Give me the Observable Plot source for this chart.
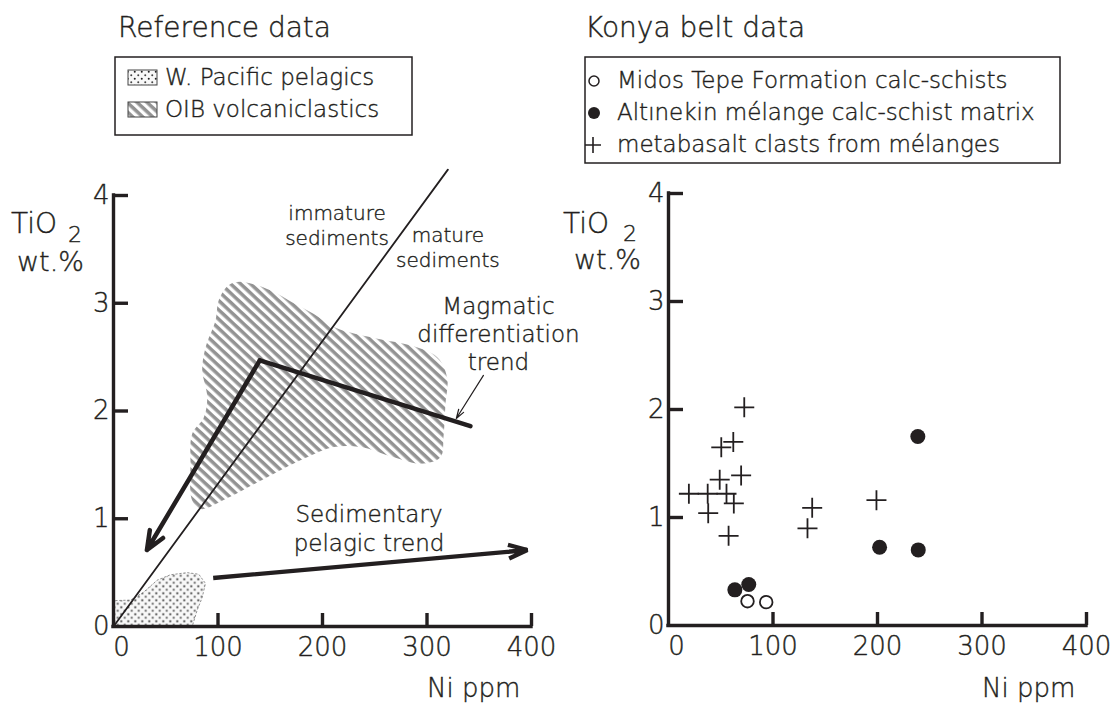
<!DOCTYPE html>
<html><head><meta charset="utf-8">
<script src="https://cdn.jsdelivr.net/npm/d3@7"></script>
<script src="https://cdn.jsdelivr.net/npm/@observablehq/plot@0.6"></script>
<style>
body{margin:0;background:#fff;}
#wrap{position:relative;width:1118px;height:709px;font-family:"DejaVu Sans";font-weight:300;color:#231f20;overflow:hidden;}
#wrap svg{position:absolute;}
#wrap text{font-weight:300;stroke:#231f20;stroke-width:0.4px;}
</style></head><body><div id="wrap"></div>
<script>
// ---------- data ----------
const xTicks = [0, 100, 200, 300, 400];
const yTicks = [0, 1, 2, 3, 4];

// boundary line between immature and mature sediments
const boundaryNi = [0, 320];
const boundaryTi = [0, 4.24];

// OIB volcaniclastics field
const oibNi = [121.5,150,172.5,191.7,210.8,230,258.7,284,309.8,319.3,317.7,315.8,312.9,293.8,268.2,236.4,210.8,185.3,159.8,134.3,108.8,83.3,75.3,73.7,75.3,86.4,89.7,84.9,88.1,97.6,100.8,110.4];
const oibTi = [3.20,3.12,3.00,2.90,2.78,2.72,2.66,2.61,2.50,2.31,2.07,1.76,1.57,1.51,1.57,1.665,1.665,1.57,1.45,1.32,1.19,1.09,1.17,1.51,1.79,1.94,2.13,2.38,2.59,2.84,3.03,3.17];

// W. Pacific pelagics field
const pelNi = [0,0,16.3,29,41.8,54.5,70.5,81.6,88,84.9,80,75.3];
const pelTi = [0,0.24,0.245,0.32,0.43,0.48,0.50,0.485,0.40,0.27,0.15,0];

// trends
const magmaticNi = [341.6, 140, 32];
const magmaticTi = [1.86, 2.47, 0.71];
const pelagicTrendNi = [95.4, 396];
const pelagicTrendTi = [0.45, 0.71];
const leaderNi = [354, 328];
const leaderTi = [2.33, 1.93];

// annotations (text, last-line baseline in data units)
const annText = ["immature\nsediments", "mature\nsediments", "Magmatic\ndifferentiation\ntrend", "Sedimentary\npelagic trend"];
const annNi = [213.9, 320, 368.4, 244.5];
const annTi = [3.536, 3.332, 2.376, 0.705];

// Konya belt data
const midosNi = [75.6, 93.5];
const midosTi = [0.225, 0.216];
const altinekinNi = [63.5, 76.8, 202, 239, 238.6];
const altinekinTi = [0.33, 0.38, 0.725, 0.70, 1.75];
const metabasaltNi = [72.5, 62, 50.5, 69.5, 49, 19.5, 37.5, 55.5, 62.5, 38, 57.5, 137.5, 133, 199];
const metabasaltTi = [2.02, 1.70, 1.65, 1.39, 1.35, 1.22, 1.22, 1.22, 1.13, 1.04, 0.83, 1.09, 0.90, 1.16];

// ---------- helpers ----------
const INK = "#231f20";
const FONT = "DejaVu Sans";
const pts = (xs, ys) => xs.map((x, i) => ({ni: x, ti: ys[i]}));
const plusSymbol = {draw(ctx, size) { const r = Math.sqrt(size / Math.PI); ctx.moveTo(-r, 0); ctx.lineTo(r, 0); ctx.moveTo(0, -r); ctx.lineTo(0, r); }};

function axes(plotW, plotH) {
  const lab = {tickSize: 0, fontSize: 26, fill: INK, label: null, fontFamily: FONT, fontWeight: 300, tickFormat: d => String(d)};
  return [
    Plot.tickX(xTicks.slice(1), {x: d => d, insetTop: plotH - 13, stroke: INK, strokeWidth: 3.4}),
    Plot.tickY(yTicks.slice(1), {y: d => d, insetRight: plotW - 15, stroke: INK, strokeWidth: 3.4}),
    Plot.ruleY([0], {stroke: INK, strokeWidth: 3.4, strokeLinecap: "square"}),
    Plot.ruleX([0], {stroke: INK, strokeWidth: 3.4, strokeLinecap: "square"}),
    Plot.axisX(xTicks.slice(1), {...lab, tickPadding: 11}),
    Plot.axisX([xTicks[0]], {...lab, tickPadding: 11, dx: 8}),
    Plot.axisY(yTicks, {...lab, tickPadding: 4})
  ];
}
const baseStyle = {background: "transparent", fontFamily: FONT, color: INK, overflow: "visible"};

const wrap = document.getElementById("wrap");

// ---------- overlay: titles, legends, axis titles ----------
wrap.insertAdjacentHTML("beforeend", `
<svg width="1118" height="709" style="left:0;top:0" font-family="${FONT}" fill="${INK}">
<defs>
  <pattern id="hatch" patternUnits="userSpaceOnUse" width="12" height="6.8" patternTransform="rotate(43)">
    <rect width="12" height="3.5" fill="#939393"/>
  </pattern>
  <pattern id="dots" patternUnits="userSpaceOnUse" width="7" height="7">
    <rect width="7" height="7" fill="#f8f8f8"/>
    <circle cx="1.75" cy="1.75" r="1" fill="#222"/>
    <circle cx="5.25" cy="5.25" r="1" fill="#444"/>
  </pattern>
</defs>
<text x="118" y="37" font-size="28">Reference data</text>
<rect x="115" y="57" width="297" height="78" fill="none" stroke="${INK}" stroke-width="1.5"/>
<rect x="128" y="70" width="29" height="15" fill="url(#dots)" stroke="#444" stroke-width="1"/>
<text x="165" y="85" font-size="23">W. Pacific pelagics</text>
<rect x="128" y="102" width="29" height="15" fill="url(#hatch)" stroke="#444" stroke-width="1"/>
<text x="165" y="117" font-size="23">OIB volcaniclastics</text>

<text x="585" y="37" font-size="28">Konya belt data</text>
<rect x="585" y="57" width="475" height="106" fill="none" stroke="${INK}" stroke-width="1.5"/>
<circle cx="594" cy="81" r="5" fill="none" stroke="${INK}" stroke-width="1.5"/>
<text x="617" y="88" font-size="23">Midos Tepe Formation calc-schists</text>
<circle cx="594" cy="113" r="6" fill="${INK}"/>
<text x="617" y="120" font-size="23">Altınekin mélange calc-schist matrix</text>
<path d="M585,145H601M593,137V153" stroke="${INK}" stroke-width="1.6"/>
<text x="617" y="152" font-size="23">metabasalt clasts from mélanges</text>

<text x="11" y="233" font-size="28">TiO</text>
<text x="68" y="242" font-size="22">2</text>
<text x="17" y="271" font-size="27">wt.%</text>
<text x="427" y="697" font-size="26">Ni ppm</text>

<text x="563" y="233" font-size="28">TiO</text>
<text x="623" y="241" font-size="22">2</text>
<text x="574" y="269" font-size="27">wt.%</text>
<text x="982" y="697" font-size="26">Ni ppm</text>
</svg>`);

// ---------- left panel ----------
{
  const width = 600, height = 559, mL = 113, mR = 69, mT = 45, mB = 83;
  const plotW = width - mL - mR, plotH = height - mT - mB;
  const mag = pts(magmaticNi, magmaticTi);
  const svg = Plot.plot({
    width, height, marginLeft: mL, marginRight: mR, marginTop: mT, marginBottom: mB,
    x: {domain: [0, 400]}, y: {domain: [0, 4]},
    style: baseStyle,
    marks: [
      Plot.line(pts(oibNi, oibTi), {x: "ni", y: "ti", curve: "catmull-rom-closed", fill: "url(#hatch)", stroke: "none"}),
      Plot.line(pts(pelNi, pelTi), {x: "ni", y: "ti", curve: "linear-closed", fill: "url(#dots)", stroke: "#777", strokeWidth: 0.8, strokeDasharray: "1.5,2.5"}),
      Plot.line(pts(boundaryNi, boundaryTi), {x: "ni", y: "ti", stroke: INK, strokeWidth: 1.8}),
      Plot.line(mag.slice(0, 2), {x: "ni", y: "ti", stroke: INK, strokeWidth: 4.5, strokeLinecap: "round"}),
      Plot.arrow([{x1: mag[1].ni, y1: mag[1].ti, x2: mag[2].ni, y2: mag[2].ti}], {x1: "x1", y1: "y1", x2: "x2", y2: "y2", stroke: INK, strokeWidth: 4.5, headLength: 6.7, headAngle: 45, strokeLinejoin: "miter", strokeLinecap: "round"}),
      Plot.arrow([{x1: pelagicTrendNi[0], y1: pelagicTrendTi[0], x2: pelagicTrendNi[1], y2: pelagicTrendTi[1]}], {x1: "x1", y1: "y1", x2: "x2", y2: "y2", stroke: INK, strokeWidth: 4.3, headLength: 7, headAngle: 40, strokeLinejoin: "miter", strokeLinecap: "butt"}),
      Plot.arrow([{x1: leaderNi[0], y1: leaderTi[0], x2: leaderNi[1], y2: leaderTi[1]}], {x1: "x1", y1: "y1", x2: "x2", y2: "y2", stroke: INK, strokeWidth: 1.2, headLength: 12, headAngle: 35}),
      ...axes(plotW, plotH),
      Plot.text([0, 1], {x: i => annNi[i], y: i => annTi[i], text: i => annText[i], fontSize: 20, lineHeight: 1.25, lineAnchor: "bottom", textAnchor: "middle", fill: INK, fontFamily: FONT, fontWeight: 300}),
      Plot.text([2, 3], {x: i => annNi[i], y: i => annTi[i], text: i => annText[i], fontSize: 23, lineHeight: 1.23, lineAnchor: "bottom", textAnchor: "middle", fill: INK, fontFamily: FONT, fontWeight: 300})
    ]
  });
  svg.style.left = "0px"; svg.style.top = "150px";
  wrap.appendChild(svg);
}

// ---------- right panel ----------
{
  const width = 558, height = 559, mL = 108, mR = 32, mT = 43, mB = 84;
  const plotW = width - mL - mR, plotH = height - mT - mB;
  const svg = Plot.plot({
    width, height, marginLeft: mL, marginRight: mR, marginTop: mT, marginBottom: mB,
    x: {domain: [0, 400]}, y: {domain: [0, 4]},
    style: baseStyle,
    marks: [
      ...axes(plotW, plotH),
      Plot.dot(pts(metabasaltNi, metabasaltTi), {x: "ni", y: "ti", symbol: plusSymbol, r: 10, stroke: INK, strokeWidth: 1.8, fill: "none"}),
      Plot.dot(pts(altinekinNi, altinekinTi), {x: "ni", y: "ti", r: 7.5, fill: INK, stroke: "none"}),
      Plot.dot(pts(midosNi, midosTi), {x: "ni", y: "ti", r: 6.3, fill: "none", stroke: INK, strokeWidth: 1.8})
    ]
  });
  svg.style.left = "560px"; svg.style.top = "150px";
  wrap.appendChild(svg);
}
</script>
</body></html>
